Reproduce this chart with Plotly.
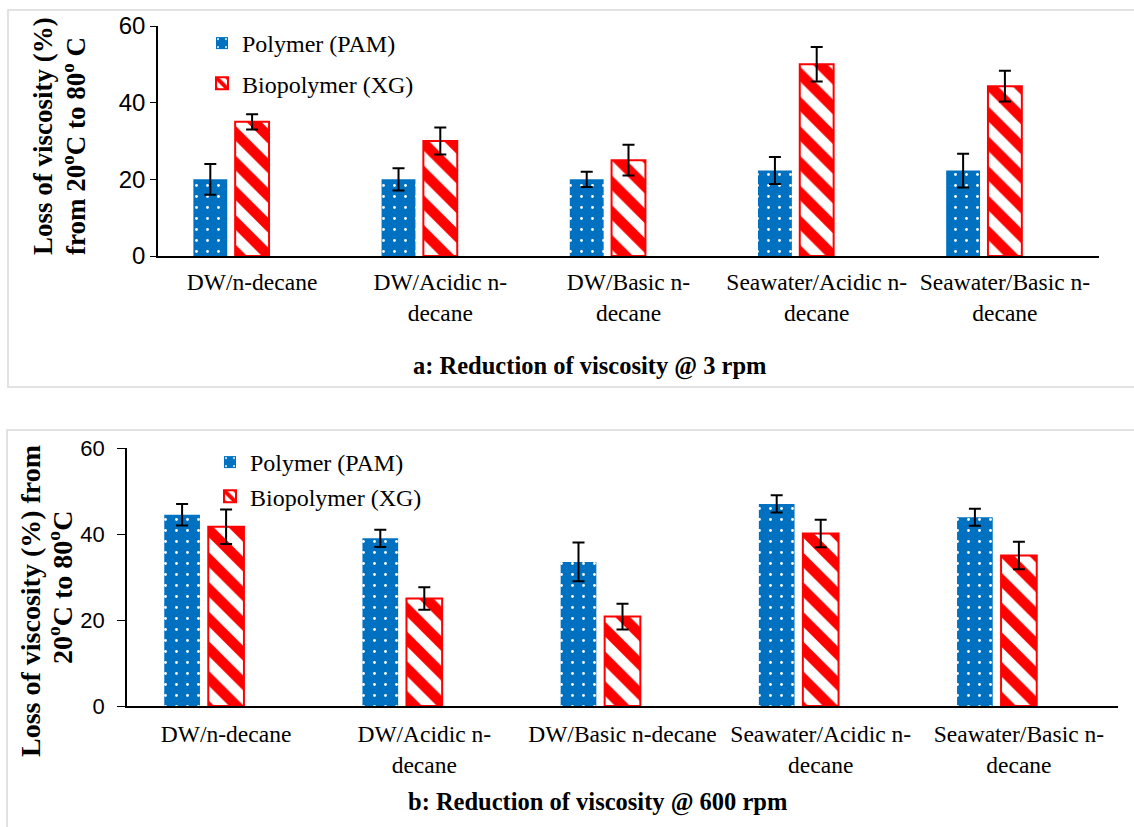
import plotly.graph_objects as go

W, H = 1134, 827

# Category labels (tick text) for the two panels
categories_a = ["DW/n-decane", "DW/Acidic n-<br>decane", "DW/Basic n-<br>decane",
                "Seawater/Acidic n-<br>decane", "Seawater/Basic n-<br>decane"]
categories_b = ["DW/n-decane", "DW/Acidic n-<br>decane", "DW/Basic n-decane",
                "Seawater/Acidic n-<br>decane", "Seawater/Basic n-<br>decane"]

# Loss of viscosity (%) at 3 rpm
pam_3rpm = [20, 20, 20, 22.3, 22.3]
pam_3rpm_err = [4, 2.9, 2, 3.5, 4.4]
xg_3rpm = [35, 30, 25, 50, 44.3]
xg_3rpm_err = [2, 3.5, 4, 4.5, 4]

# Loss of viscosity (%) at 600 rpm
pam_600rpm = [44.5, 39, 33.5, 47, 43.9]
pam_600rpm_err = [2.5, 2, 4.5, 2, 2]
xg_600rpm = [41.7, 25, 20.8, 40.1, 35]
xg_600rpm_err = [4, 2.6, 3, 3.2, 3.2]

y_ticks = [0, 20, 40, 60]
series_names = ["Polymer (PAM)", "Biopolymer (XG)"]

SERIF = "Liberation Serif"
SANS = "Liberation Sans"
BLUE = "#0070C0"
RED = "#FF0000"


def px_x(x):
    return x / W


def px_y(y):
    return 1 - y / H


pam_marker = dict(color=BLUE, line=dict(width=0),
                  pattern=dict(shape=".", fgcolor="white", bgcolor=BLUE,
                               size=11, solidity=0.05, fillmode="replace"))
xg_marker = dict(color="white", line=dict(color=RED, width=2),
                 pattern=dict(shape="\\", fgcolor=RED, bgcolor="white",
                              size=21, solidity=0.5, fillmode="replace"))

err_style = dict(type="data", color="black", thickness=2, width=6, visible=True)

idx = list(range(len(categories_a)))
BAR_W = 0.18
OFF_PAM = -0.312
OFF_XG = -0.090

fig = go.Figure()

# Panel a (3 rpm)
fig.add_trace(go.Bar(x=idx, y=pam_3rpm, name=series_names[0], marker=pam_marker,
                     error_y=dict(array=pam_3rpm_err, **err_style),
                     width=BAR_W, offset=OFF_PAM, xaxis="x", yaxis="y",
                     legend="legend", legendgroup="a1"))
fig.add_trace(go.Bar(x=idx, y=xg_3rpm, name=series_names[1], marker=xg_marker,
                     error_y=dict(array=xg_3rpm_err, **err_style),
                     width=BAR_W, offset=OFF_XG, xaxis="x", yaxis="y",
                     legend="legend", legendgroup="a2"))

# Panel b (600 rpm)
fig.add_trace(go.Bar(x=idx, y=pam_600rpm, name=series_names[0], marker=pam_marker,
                     error_y=dict(array=pam_600rpm_err, **err_style),
                     width=BAR_W, offset=OFF_PAM, xaxis="x2", yaxis="y2",
                     legend="legend2"))
fig.add_trace(go.Bar(x=idx, y=xg_600rpm, name=series_names[1], marker=xg_marker,
                     error_y=dict(array=xg_600rpm_err, **err_style),
                     width=BAR_W, offset=OFF_XG, xaxis="x2", yaxis="y2",
                     legend="legend2"))

xaxis_common = dict(range=[-0.5, 4.5], tickvals=idx, showline=True, linecolor="black",
                    linewidth=2, ticks="", showgrid=False, zeroline=False, automargin=False,
                    tickfont=dict(family=SERIF, size=23.5, color="black"))
yaxis_common = dict(range=[0, 60], tickvals=y_ticks, showline=True, linecolor="black",
                    linewidth=1.5, ticks="outside", tickcolor="black",
                    showgrid=False, zeroline=False, automargin=False)

fig.update_layout(
    template="none",
    width=W, height=H,
    margin=dict(l=0, r=0, t=0, b=0),
    paper_bgcolor="white", plot_bgcolor="white",
    barmode="overlay",
    xaxis=dict(domain=[px_x(158), px_x(1099)], anchor="y", ticktext=categories_a,
               ticklabelstandoff=4, **xaxis_common),
    yaxis=dict(domain=[px_y(256), px_y(26)], anchor="x", ticklen=6,
               tickfont=dict(family=SANS, size=24, color="black"), **yaxis_common),
    xaxis2=dict(domain=[px_x(127), px_x(1118)], anchor="y2", ticktext=categories_b,
                ticklabelstandoff=6, **xaxis_common),
    yaxis2=dict(domain=[px_y(706), px_y(448)], anchor="x2", ticklen=8, ticklabelstandoff=8,
                tickfont=dict(family=SANS, size=22, color="black"), **yaxis_common),
    legend=dict(x=px_x(202), y=px_y(21), xanchor="left", yanchor="top",
                font=dict(family=SERIF, size=24, color="black"),
                bgcolor="rgba(0,0,0,0)", traceorder="grouped", tracegroupgap=6),
    legend2=dict(x=px_x(210), y=px_y(440), xanchor="left", yanchor="top",
                 font=dict(family=SERIF, size=24, color="black"),
                 bgcolor="rgba(0,0,0,0)", tracegroupgap=0),
    shapes=[
        dict(type="rect", xref="paper", yref="paper", x0=px_x(8), x1=1.01,
             y0=px_y(387), y1=px_y(10), line=dict(color="#D9D9D9", width=1.5), layer="below"),
        dict(type="rect", xref="paper", yref="paper", x0=px_x(7), x1=1.01,
             y0=-0.02, y1=px_y(430), line=dict(color="#D9D9D9", width=1.5), layer="below"),
    ],
)

ann = [
    # panel titles
    dict(text="<b>a: Reduction of viscosity @ 3 rpm</b>", x=px_x(590), y=px_y(366), size=24.5),
    dict(text="<b>b: Reduction of viscosity @ 600 rpm</b>", x=px_x(597), y=px_y(802), size=24.5),
    # y-axis titles, one annotation per line
    dict(text="<b>Loss of viscosity (%)</b>", x=px_x(43), y=px_y(136), textangle=-90, size=27),
    dict(text="<b>from 20<sup>o</sup>C to 80<sup>o</sup> C</b>", x=px_x(74), y=px_y(146),
         textangle=-90, size=27),
    dict(text="<b>Loss of viscosity (%) from</b>", x=px_x(30), y=px_y(601), textangle=-90, size=28),
    dict(text="<b>20<sup>o</sup>C to 80<sup>o</sup>C</b>", x=px_x(60), y=px_y(588),
         textangle=-90, size=28),
]
for a in ann:
    size = a.pop("size")
    fig.add_annotation(xref="paper", yref="paper", showarrow=False,
                       xanchor="center", yanchor="middle",
                       font=dict(family=SERIF, size=size, color="black"), **a)

fig.write_html("out.html")
